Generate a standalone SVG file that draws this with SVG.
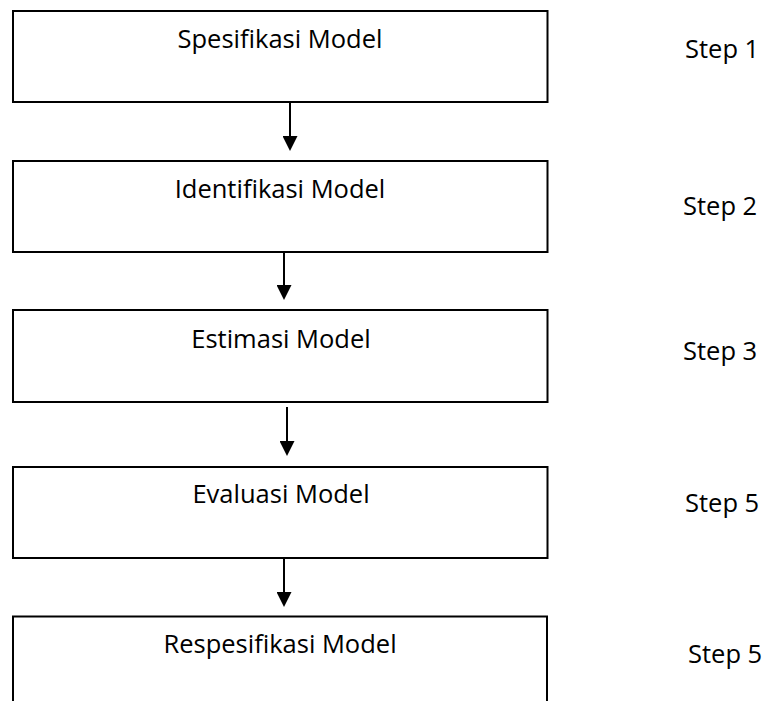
<svg xmlns="http://www.w3.org/2000/svg" width="765" height="701" viewBox="0 0 765 701">
  <style>
    .box { fill: #ffffff; stroke: #000000; stroke-width: 2; }
    .label { font-family: "Open Sans", "Noto Sans", "DejaVu Sans", sans-serif; font-size: 25.5px; fill: #000000; }
    .mid { text-anchor: middle; }
    .step { text-anchor: start; }
    .link { stroke: #000000; stroke-width: 2; fill: none; marker-end: url(#head); }
  </style>
  <defs>
    <marker id="head" markerUnits="userSpaceOnUse" markerWidth="15" markerHeight="15" refX="11" refY="7.5" orient="auto">
      <path d="M0,0 L15,7.5 L0,15 Z" fill="#000000"/>
    </marker>
  </defs>
  <rect width="765" height="701" fill="#ffffff"/>

  <g id="spesifikasi">
    <rect class="box" x="13" y="11" width="534.5" height="91"/>
    <text class="label mid" x="280" y="48">Spesifikasi Model</text>
  </g>
  <g id="identifikasi">
    <rect class="box" x="13" y="161" width="534.5" height="91"/>
    <text class="label mid" x="280" y="198">Identifikasi Model</text>
  </g>
  <g id="estimasi">
    <rect class="box" x="13" y="310" width="534.5" height="92"/>
    <text class="label mid" x="281" y="348">Estimasi Model</text>
  </g>
  <g id="evaluasi">
    <rect class="box" x="13" y="467" width="534.5" height="91"/>
    <text class="label mid" x="281" y="503">Evaluasi Model</text>
  </g>
  <g id="respesifikasi">
    <rect class="box" x="13" y="616.5" width="534" height="100"/>
    <text class="label mid" x="280" y="653">Respesifikasi Model</text>
  </g>

  <g id="steps">
    <text class="label step" x="685" y="58">Step 1</text>
    <text class="label step" x="683" y="215">Step 2</text>
    <text class="label step" x="683" y="360">Step 3</text>
    <text class="label step" x="685" y="512">Step 5</text>
    <text class="label step" x="688" y="663">Step 5</text>
  </g>

  <g id="connectors">
    <line class="link" x1="290" y1="103" x2="290" y2="147"/>
    <line class="link" x1="284" y1="253" x2="284" y2="296"/>
    <line class="link" x1="287" y1="407" x2="287" y2="452"/>
    <line class="link" x1="284" y1="559" x2="284" y2="603"/>
  </g>
</svg>
